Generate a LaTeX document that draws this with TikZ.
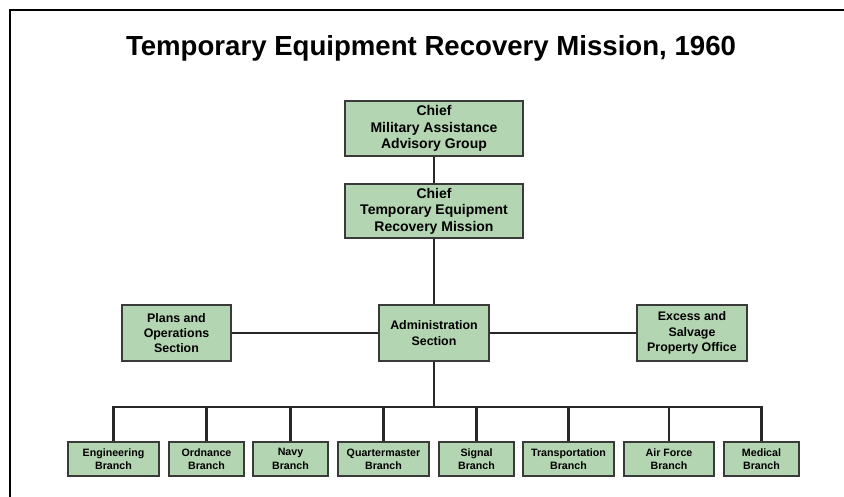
\documentclass[tikz,border=0pt]{standalone}
\usepackage{fontspec}
\setmainfont{Liberation Sans}
\definecolor{boxgreen}{RGB}{180,213,178}
\definecolor{boxline}{RGB}{58,58,58}
\definecolor{wire}{RGB}{40,40,40}
\begin{document}
\begin{tikzpicture}
    [x=0.75pt,y=-0.75pt,inner sep=0pt,
     unit/.style={draw=boxline,fill=boxgreen,line width=1.5pt,align=center},
     chiefbox/.style={unit,minimum width=133.5pt,minimum height=41pt,font=\bfseries\fontsize{10.5}{12.4}\selectfont},
     sectionbox/.style={unit,minimum width=82pt,minimum height=42pt,font=\bfseries\fontsize{9.3}{11.5}\selectfont},
     branchbox/.style={unit,minimum height=25.5pt,font=\bfseries\fontsize{8}{10}\selectfont},
     conn/.style={draw=wire,line width=1.6pt}]
    \useasboundingbox (0,0) rectangle (844,497);
    \draw [line width=2.2pt] (10,497) -- (10,10) -- (844,10);
    \node (title) at (431,55) [anchor=base,font=\bfseries\fontsize{20.7}{25}\selectfont]
        {Temporary Equipment Recovery Mission, 1960};
    % command
    \node (maag) at (434,128.5) [chiefbox] {Chief\\Military Assistance\\Advisory Group};
    \node (term) at (434,211) [chiefbox] {Chief\\Temporary Equipment\\Recovery Mission};
    % sections
    \node (plans) at (176.5,333) [sectionbox] {Plans and\\Operations\\Section};
    \node (admin) at (434,333) [sectionbox] {Administration\\Section};
    \node (excess) at (692,333) [sectionbox] {Excess and\\Salvage\\Property Office};
    % branches
    \coordinate (bus) at (434,407);
    \node (eng) at (113.5,459) [branchbox,minimum width=68pt] {Engineering\\Branch};
    \node (ord) at (206.5,459) [branchbox,minimum width=56pt] {Ordnance\\Branch};
    \node (navy) at (290.5,459) [branchbox,minimum width=56pt] {Navy\\Branch};
    \node (qm) at (383.5,459) [branchbox,minimum width=68pt] {Quartermaster\\Branch};
    \node (sig) at (476.5,459) [branchbox,minimum width=56pt] {Signal\\Branch};
    \node (trans) at (568.5,459) [branchbox,minimum width=68pt] {Transportation\\Branch};
    \node (af) at (669,459) [branchbox,minimum width=67.5pt] {Air Force\\Branch};
    \node (med) at (761.5,459) [branchbox,minimum width=56pt] {Medical\\Branch};
    \draw [conn] (maag) to (term);
    \draw [conn] (term) to (admin);
    \draw [conn] (plans) to (admin);
    \draw [conn] (admin) to (excess);
    \draw [conn] (admin) -- (bus);
    \draw [conn] (bus) -| (eng);
    \draw [conn] (bus) -| (ord);
    \draw [conn] (bus) -| (navy);
    \draw [conn] (bus) -| (qm);
    \draw [conn] (bus) -| (sig);
    \draw [conn] (bus) -| (trans);
    \draw [conn] (bus) -| (af);
    \draw [conn] (bus) -| (med);
  \end{tikzpicture}
\end{document}
